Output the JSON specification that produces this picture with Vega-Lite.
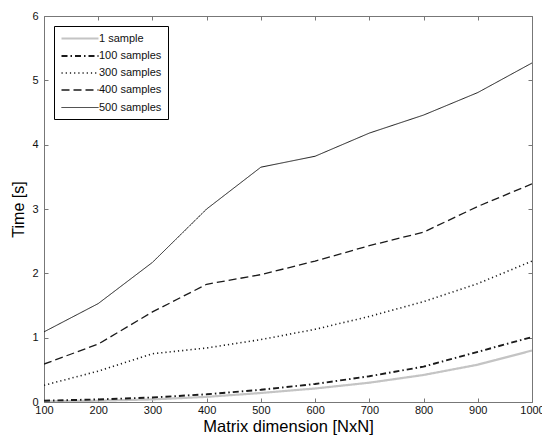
{
  "$schema": "https://vega.github.io/schema/vega-lite/v6.json",
  "width": 488,
  "height": 386,
  "autosize": {"type": "none"},
  "padding": {"left": 44, "top": 16, "right": 10, "bottom": 34},
  "background": "white",
  "config": {
    "font": "Liberation Sans",
    "view": {"stroke": "#777", "strokeWidth": 1},
    "axis": {
      "domain": false,
      "grid": false,
      "tickColor": "#777",
      "tickSize": -4,
      "labelFont": "Liberation Sans",
      "labelFontSize": 11,
      "labelColor": "#111",
      "titleFont": "Liberation Sans",
      "titleFontSize": 16,
      "titleFontWeight": "normal",
      "titleColor": "#000"
    },
    "legend": {
      "orient": "top-left",
      "offset": 10,
      "padding": 6,
      "strokeColor": "#000",
      "fillColor": "white",
      "labelFont": "Liberation Sans",
      "labelFontSize": 11,
      "labelColor": "#111",
      "labelOffset": 26,
      "symbolType": "M-1,0H6.4",
      "symbolSize": 100,
      "rowPadding": 6
    }
  },
  "data": {
    "values": [
      {"n": 100, "series": "1 sample", "t": 0.01},
      {"n": 200, "series": "1 sample", "t": 0.02},
      {"n": 300, "series": "1 sample", "t": 0.04},
      {"n": 400, "series": "1 sample", "t": 0.08},
      {"n": 500, "series": "1 sample", "t": 0.14},
      {"n": 600, "series": "1 sample", "t": 0.21},
      {"n": 700, "series": "1 sample", "t": 0.30},
      {"n": 800, "series": "1 sample", "t": 0.42},
      {"n": 900, "series": "1 sample", "t": 0.58},
      {"n": 1000, "series": "1 sample", "t": 0.80},
      {"n": 100, "series": "100 samples", "t": 0.02},
      {"n": 200, "series": "100 samples", "t": 0.04},
      {"n": 300, "series": "100 samples", "t": 0.07},
      {"n": 400, "series": "100 samples", "t": 0.12},
      {"n": 500, "series": "100 samples", "t": 0.19},
      {"n": 600, "series": "100 samples", "t": 0.28},
      {"n": 700, "series": "100 samples", "t": 0.40},
      {"n": 800, "series": "100 samples", "t": 0.55},
      {"n": 900, "series": "100 samples", "t": 0.78},
      {"n": 1000, "series": "100 samples", "t": 1.01},
      {"n": 100, "series": "300 samples", "t": 0.26},
      {"n": 200, "series": "300 samples", "t": 0.48},
      {"n": 300, "series": "300 samples", "t": 0.75},
      {"n": 400, "series": "300 samples", "t": 0.84},
      {"n": 500, "series": "300 samples", "t": 0.97},
      {"n": 600, "series": "300 samples", "t": 1.13},
      {"n": 700, "series": "300 samples", "t": 1.33},
      {"n": 800, "series": "300 samples", "t": 1.56},
      {"n": 900, "series": "300 samples", "t": 1.84},
      {"n": 1000, "series": "300 samples", "t": 2.19},
      {"n": 100, "series": "400 samples", "t": 0.59},
      {"n": 200, "series": "400 samples", "t": 0.90},
      {"n": 300, "series": "400 samples", "t": 1.40},
      {"n": 400, "series": "400 samples", "t": 1.83},
      {"n": 500, "series": "400 samples", "t": 1.98},
      {"n": 600, "series": "400 samples", "t": 2.19},
      {"n": 700, "series": "400 samples", "t": 2.43},
      {"n": 800, "series": "400 samples", "t": 2.64},
      {"n": 900, "series": "400 samples", "t": 3.04},
      {"n": 1000, "series": "400 samples", "t": 3.39},
      {"n": 100, "series": "500 samples", "t": 1.09},
      {"n": 200, "series": "500 samples", "t": 1.53},
      {"n": 300, "series": "500 samples", "t": 2.17},
      {"n": 400, "series": "500 samples", "t": 3.00},
      {"n": 500, "series": "500 samples", "t": 3.65},
      {"n": 600, "series": "500 samples", "t": 3.82},
      {"n": 700, "series": "500 samples", "t": 4.18},
      {"n": 800, "series": "500 samples", "t": 4.46},
      {"n": 900, "series": "500 samples", "t": 4.81},
      {"n": 1000, "series": "500 samples", "t": 5.27}
    ]
  },
  "layer": [
    {
      "mark": {"type": "line", "clip": true},
      "encoding": {
        "x": {
          "field": "n",
          "type": "quantitative",
          "scale": {"domain": [100, 1000], "nice": false, "zero": false},
          "axis": {
            "orient": "bottom",
            "values": [100, 200, 300, 400, 500, 600, 700, 800, 900, 1000],
            "format": "d",
            "labelPadding": 6,
            "labelFlush": false,
            "labelOverlap": false,
            "title": "Matrix dimension [NxN]",
            "titleFontSize": 16.5,
            "titlePadding": 3
          }
        },
        "y": {
          "field": "t",
          "type": "quantitative",
          "scale": {"domain": [0, 6], "nice": false},
          "axis": {
            "orient": "left",
            "values": [0, 1, 2, 3, 4, 5, 6],
            "format": "d",
            "labelPadding": 10,
            "labelFlush": false,
            "title": "Time [s]",
            "titlePadding": 5
          }
        },
        "color": {
          "field": "series",
          "type": "nominal",
          "scale": {
            "domain": ["1 sample", "100 samples", "300 samples", "400 samples", "500 samples"],
            "range": ["#c4c4c4", "#1a1a1a", "#1a1a1a", "#1a1a1a", "#1a1a1a"]
          },
          "legend": {"title": null}
        },
        "strokeDash": {
          "field": "series",
          "type": "nominal",
          "scale": {
            "domain": ["1 sample", "100 samples", "300 samples", "400 samples", "500 samples"],
            "range": [[1, 0], [6, 3, 1.5, 3], [1.2, 3], [8, 4], [1, 0]]
          },
          "legend": {"title": null}
        },
        "strokeWidth": {
          "field": "series",
          "type": "nominal",
          "scale": {
            "domain": ["1 sample", "100 samples", "300 samples", "400 samples", "500 samples"],
            "range": [2.2, 1, 1, 1, 1]
          },
          "legend": {"title": null}
        }
      }
    },
    {
      "mark": {"type": "line", "opacity": 0},
      "encoding": {
        "x": {
          "field": "n",
          "type": "quantitative",
          "axis": {
            "orient": "top",
            "values": [100, 200, 300, 400, 500, 600, 700, 800, 900, 1000],
            "labels": false,
            "title": null
          }
        },
        "y": {
          "field": "t",
          "type": "quantitative",
          "axis": {
            "orient": "right",
            "values": [0, 1, 2, 3, 4, 5, 6],
            "labels": false,
            "title": null
          }
        }
      }
    }
  ],
  "resolve": {"axis": {"x": "independent", "y": "independent"}}
}
